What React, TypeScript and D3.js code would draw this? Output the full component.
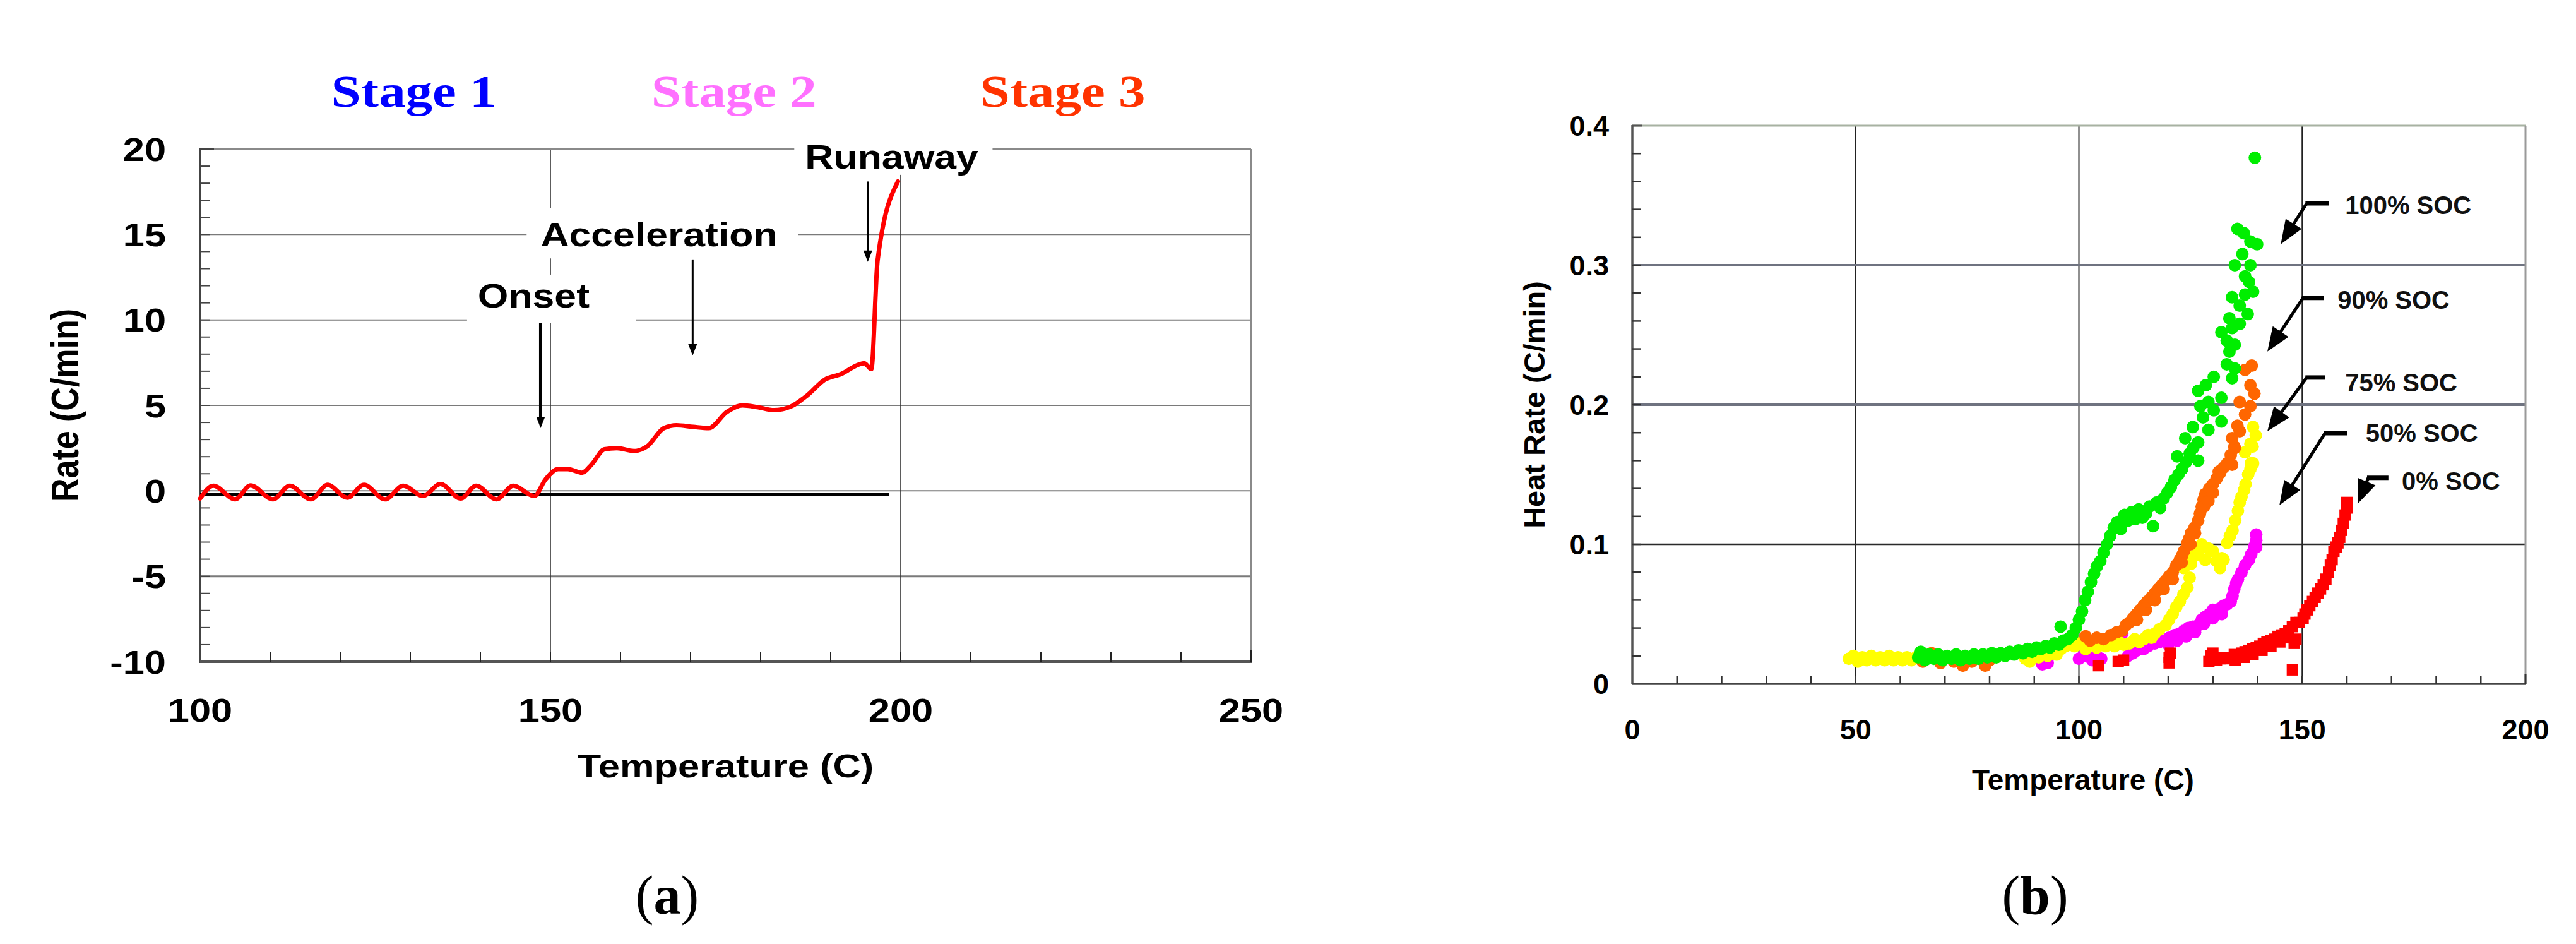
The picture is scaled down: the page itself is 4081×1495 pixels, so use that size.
import React from "react";
import * as d3 from "d3";

const SANS = '"Liberation Sans", Arial, Helvetica, sans-serif';
const SERIF = '"Liberation Serif", "Times New Roman", serif';

// ---------- panel (a): rate vs temperature ----------
const rateTemp = [100, 101.9, 105, 107.2, 110.4, 112.8, 115.8, 118.2, 121, 123.4, 126.4, 129, 131.8, 134.3, 137.2, 139.4, 142.3, 144.7, 147.7, 149.3, 151.1, 152.5, 154.5, 155.9, 157.7, 159.5, 161.9, 163.8, 166.2, 168, 170.4, 172.6, 175.2, 177.4, 179.5, 181.9, 184.3, 186.7, 189.1, 191.5, 193.9, 194.8, 195.8, 196.7, 199.6];
const rateVal = [-0.45, 0.3, -0.5, 0.32, -0.5, 0.3, -0.5, 0.35, -0.4, 0.35, -0.5, 0.3, -0.3, 0.4, -0.45, 0.3, -0.5, 0.3, -0.3, 0.67, 1.27, 1.27, 1.06, 1.55, 2.43, 2.5, 2.33, 2.6, 3.67, 3.84, 3.74, 3.67, 4.62, 5.0, 4.9, 4.72, 4.93, 5.6, 6.49, 6.84, 7.37, 7.47, 7.12, 13.5, 18.1];
const baseTemp = [100, 198.3];
const baseVal = [-0.2, -0.2];
const aXTicks = [100, 150, 200, 250];
const aYTicks = [-10, -5, 0, 5, 10, 15, 20];
const stageLabels = ["Stage 1", "Stage 2", "Stage 3"];
const stageColors = ["#0000ff", "#ff70ff", "#ff3300"];
const stageAt = [130.5, 176.2, 223.1];
const aNotes = [
  { label: "Onset", t: 147.6, v: 10.73, box: [138.1, 162.2, 9.84, 12.65], arrow: [148.6, 9.84, 3.67], w: 5 },
  { label: "Acceleration", t: 165.5, v: 14.31, box: [146.6, 185.4, 13.6, 16.53], arrow: [170.3, 13.54, 7.92], w: 3 },
  { label: "Runaway", t: 198.7, v: 18.85, box: [184.8, 213.1, 18.49, 20.78], arrow: [195.3, 18.1, 13.4], w: 3 },
];

// ---------- panel (b): heat rate scatter by SOC ----------
const soc100 = [
  [64, 0.019], [64.6, 0.023], [65.5, 0.017], [66.5, 0.021], [67.5, 0.018], [68.5, 0.021], [69.5, 0.017], [70.5, 0.02], [71.5, 0.018], [72.5, 0.021],
  [73.5, 0.017], [74.5, 0.02], [75.5, 0.018], [76.5, 0.021], [77.5, 0.018], [78.5, 0.021], [79.5, 0.019], [80.5, 0.022], [81.5, 0.019], [82.5, 0.022],
  [83.5, 0.02], [84.5, 0.023], [85.5, 0.021], [86.5, 0.024], [87.5, 0.022], [88.5, 0.025], [89.5, 0.023], [90.5, 0.026], [91.5, 0.025], [92.5, 0.027],
  [93.5, 0.026], [94.5, 0.029], [95.5, 0.028], [95.9, 0.041], [96.5, 0.031], [97.5, 0.032], [98.5, 0.035], [99.3, 0.04], [100, 0.046], [100.7, 0.052],
  [101.4, 0.06], [102, 0.066], [102.7, 0.073], [103.4, 0.079], [104, 0.084], [104.8, 0.088], [105.5, 0.094], [106.3, 0.1], [107, 0.106], [107.8, 0.112],
  [108.6, 0.116], [109.4, 0.111], [110.2, 0.121], [111, 0.117], [111.8, 0.123], [112.6, 0.118], [113.4, 0.125], [114.2, 0.119], [115, 0.122], [115.8, 0.127],
  [116.6, 0.113], [117.4, 0.13], [118.2, 0.126], [119, 0.133], [119.8, 0.137], [120.6, 0.141], [121.4, 0.146], [122, 0.163], [122.3, 0.15], [123.1, 0.154],
  [123.8, 0.176], [124, 0.159], [124.8, 0.165], [125.5, 0.184], [125.6, 0.169], [126.7, 0.173], [126.7, 0.16], [126.7, 0.21], [127.2, 0.199], [127.8, 0.191],
  [128.4, 0.214], [129, 0.182], [129, 0.202], [130.2, 0.196], [130.2, 0.22], [131.9, 0.205], [131.9, 0.188], [131.9, 0.252], [133.1, 0.229], [133.1, 0.246],
  [133.7, 0.238], [133.7, 0.262], [134.3, 0.219], [134.3, 0.255], [134.3, 0.277], [134.9, 0.226], [134.9, 0.243], [134.9, 0.3], [135.5, 0.326], [136, 0.258],
  [136, 0.271], [136.6, 0.308], [136.9, 0.323], [137.2, 0.279], [137.2, 0.292], [137.8, 0.265], [138.1, 0.288], [138.4, 0.3], [138.4, 0.317], [139, 0.281],
  [139.4, 0.377], [139.9, 0.315],
];
const soc90 = [
  [64.5, 0.021], [65, 0.016], [67, 0.022], [69, 0.015], [72, 0.016], [74, 0.013], [76, 0.016], [79, 0.013], [80, 0.017],
  [101.5, 0.034], [102.5, 0.031], [104, 0.033], [105.5, 0.032], [107.2, 0.035], [108.5, 0.037], [109.7, 0.038], [110.5, 0.042], [111.3, 0.044], [112.1, 0.047],
  [112.9, 0.05], [113, 0.046], [113.7, 0.053], [114.5, 0.056], [115, 0.053], [115.3, 0.059], [116.2, 0.062], [117, 0.065], [117, 0.06], [117.8, 0.068],
  [118.6, 0.071], [119, 0.068], [119.4, 0.074], [120.2, 0.077], [121, 0.08], [121, 0.075], [121.8, 0.085], [122.6, 0.089], [123, 0.087], [123.1, 0.092],
  [123.5, 0.095], [124.3, 0.101], [124.7, 0.104], [125, 0.1], [125.1, 0.108], [125.9, 0.112], [126, 0.108], [126.7, 0.117], [127.1, 0.122], [127.5, 0.127],
  [127.9, 0.132], [128, 0.127], [128.3, 0.136], [129, 0.131], [129.2, 0.14], [130, 0.143], [130, 0.137], [130.8, 0.147], [131.6, 0.151], [131.3, 0.152],
  [132.4, 0.155], [133.2, 0.158], [134, 0.164], [134.3, 0.157], [134.8, 0.17], [134.9, 0.169], [134.3, 0.176], [136, 0.181], [135.5, 0.185], [137.2, 0.193],
  [136, 0.202], [138.4, 0.199], [139.3, 0.208], [138.4, 0.214], [137.2, 0.225], [138.7, 0.228],
];
const soc75 = [
  [48.5, 0.018], [49.5, 0.02], [50.5, 0.016], [51.5, 0.019], [52.5, 0.017], [53.5, 0.02], [54.5, 0.017], [55.5, 0.019], [56.5, 0.017], [57.5, 0.02],
  [58.5, 0.017], [59.5, 0.019], [60.5, 0.017], [61.5, 0.019], [62.5, 0.017], [63.5, 0.019], [88, 0.018], [89, 0.016], [90, 0.02], [91, 0.019],
  [92, 0.022], [93, 0.02], [94, 0.023], [95, 0.021], [96, 0.025], [97, 0.027], [98.3, 0.03], [99, 0.027], [100, 0.029], [100.7, 0.028],
  [101.5, 0.025], [102.5, 0.028], [104, 0.026], [105, 0.029], [106, 0.027], [107, 0.03], [108, 0.027], [109, 0.03], [110, 0.028], [111.3, 0.029],
  [112.5, 0.032], [113.5, 0.03], [114.5, 0.032], [115.5, 0.035], [116.2, 0.033], [117, 0.036], [118, 0.039], [119.4, 0.042], [120.2, 0.046], [121, 0.05],
  [121.8, 0.055], [122.6, 0.059], [123.4, 0.064], [124.3, 0.069], [124.8, 0.076], [123.5, 0.083], [124.5, 0.088], [125.1, 0.086], [126, 0.092], [126.7, 0.095],
  [127.5, 0.1], [128.3, 0.089], [129, 0.097], [130, 0.095], [130.8, 0.088], [131.6, 0.083], [132, 0.09], [132.4, 0.089], [133.2, 0.101], [133.8, 0.106],
  [134.4, 0.11], [135, 0.117], [135.6, 0.124], [136, 0.13], [136.4, 0.134], [137, 0.139], [137.3, 0.143], [137.9, 0.15], [138.4, 0.154], [138.5, 0.158],
  [139, 0.158], [138.9, 0.17], [138.4, 0.172], [137.2, 0.166], [139.6, 0.178], [139, 0.184],
];
const soc50 = [
  [91.8, 0.014], [92.5, 0.016], [93, 0.015], [100, 0.018], [101, 0.02], [102.4, 0.019], [103, 0.017], [104, 0.02], [105, 0.018], [109.7, 0.036],
  [111, 0.02], [112.1, 0.022], [113, 0.024], [114.5, 0.025], [115.5, 0.027], [117, 0.029], [118, 0.03], [119, 0.031], [120, 0.028], [120.2, 0.033],
  [121.5, 0.035], [122, 0.031], [122.5, 0.036], [123.5, 0.038], [124, 0.034], [124.5, 0.04], [125.5, 0.041], [126, 0.037], [126.7, 0.042], [127.5, 0.046],
  [128, 0.043], [128.3, 0.048], [129.2, 0.05], [130, 0.053], [130, 0.047], [130.8, 0.053], [131.6, 0.054], [132, 0.05], [132.4, 0.056], [133.2, 0.057],
  [134, 0.059], [134.4, 0.063], [134.8, 0.068], [135.2, 0.072], [135.6, 0.075], [136.4, 0.08], [137.2, 0.085], [138.1, 0.089], [138.6, 0.093], [139.2, 0.098],
  [139.7, 0.098], [139.7, 0.103], [139.7, 0.107],
];
const soc0 = [
  [104.4, 0.013], [108.8, 0.016], [110, 0.017], [120.2, 0.015], [120.2, 0.019], [120.5, 0.022], [129.1, 0.016], [129.5, 0.02], [130, 0.022], [130.8, 0.017],
  [131.6, 0.018], [132.4, 0.019], [133.2, 0.018], [134, 0.019], [134.8, 0.021], [135, 0.017], [135.6, 0.02], [136.4, 0.022], [137, 0.019], [137.2, 0.023],
  [138, 0.024], [138.9, 0.025], [139, 0.021], [139.7, 0.026], [140.5, 0.027], [141, 0.024], [141.3, 0.029], [142.1, 0.03], [143, 0.031], [143, 0.027],
  [143.8, 0.032], [144.6, 0.034], [145, 0.03], [145.4, 0.035], [146.2, 0.036], [147, 0.038], [147, 0.033], [147.8, 0.041], [147.8, 0.01], [148.2, 0.029],
  [148.6, 0.032], [148.6, 0.044], [149.4, 0.044], [150.2, 0.047], [150.6, 0.05], [151.1, 0.053], [151.7, 0.056], [152.3, 0.059], [152.9, 0.062], [153.5, 0.065],
  [154.1, 0.068], [154.7, 0.071], [155.3, 0.075], [155.9, 0.08], [156.3, 0.085], [156.7, 0.089], [157.1, 0.095], [157.6, 0.098], [158, 0.101], [158.4, 0.105],
  [158.8, 0.11], [159.2, 0.115], [159.6, 0.121], [160, 0.126], [160, 0.13],
];
const bXTicks = [0, 50, 100, 150, 200];
const bYTicks = [0, 0.1, 0.2, 0.3, 0.4];
const bNotes = [
  { label: "100% SOC", t: 159.6, v: 0.343, dash: [151.0, 155.9, 0.3443], tip: [145.2, 0.3151] },
  { label: "90% SOC", t: 157.9, v: 0.275, dash: [150.2, 154.9, 0.2766], tip: [142.2, 0.2381] },
  { label: "75% SOC", t: 159.6, v: 0.2158, dash: [151.0, 155.1, 0.2195], tip: [142.2, 0.181] },
  { label: "50% SOC", t: 164.2, v: 0.1796, dash: [155.1, 160.1, 0.1796], tip: [144.9, 0.128] },
  { label: "0% SOC", t: 172.3, v: 0.1452, dash: [164.8, 169.3, 0.1476], tip: [162.4, 0.129] },
];

const W = 4081;
const H = 1495;
const SX = 1.18; // panel (a) is horizontally stretched in the figure

function Arrow({ x1, y1, x2, y2, sw, hl, hw }) {
  const dx = x2 - x1;
  const dy = y2 - y1;
  const L = Math.hypot(dx, dy);
  const ux = dx / L;
  const uy = dy / L;
  const bx = x2 - ux * hl;
  const by = y2 - uy * hl;
  const px = -uy;
  const py = ux;
  return (
    <g>
      <line x1={x1} y1={y1} x2={bx + ux * 2} y2={by + uy * 2} stroke="#000" strokeWidth={sw} />
      <polygon
        points={`${x2},${y2} ${bx + (px * hw) / 2},${by + (py * hw) / 2} ${bx - (px * hw) / 2},${by - (py * hw) / 2}`}
        fill="#000"
      />
    </g>
  );
}

function PanelA() {
  const x = d3.scaleLinear().domain([100, 250]).range([317, 1982]);
  const y = d3.scaleLinear().domain([-10, 20]).range([1048, 236]);
  const line = d3
    .line()
    .x((d) => x(d[0]))
    .y((d) => y(d[1]))
    .curve(d3.curveMonotoneX);
  const rateData = rateTemp.map((t, i) => [t, rateVal[i]]);
  const baseData = baseTemp.map((t, i) => [t, baseVal[i]]);
  const minorY = d3.range(-9, 20, 1);
  const minorX = d3.range(110, 250, 10);

  return (
    <g>
      {/* grid */}
      {[-5, 0, 5, 10, 15].map((v) => (
        <line key={"h" + v} x1={x(100)} x2={x(250)} y1={y(v)} y2={y(v)} stroke="#7a7a7a" strokeWidth={v === -5 ? 3 : 2} />
      ))}
      {[150, 200].map((t) => (
        <line key={"v" + t} x1={x(t)} x2={x(t)} y1={y(20)} y2={y(-10)} stroke="#333" strokeWidth={1.6} />
      ))}
      <line x1={x(100)} x2={x(250)} y1={y(20)} y2={y(20)} stroke="#8a8a8a" strokeWidth={4} />
      <line x1={x(250)} x2={x(250)} y1={y(20)} y2={y(-10)} stroke="#8a8a8a" strokeWidth={3} />

      {/* annotation boxes hide grid */}
      {aNotes.map((n) => (
        <rect key={"b" + n.label} x={x(n.box[0])} y={y(n.box[3])} width={x(n.box[1]) - x(n.box[0])} height={y(n.box[2]) - y(n.box[3])} fill="#fff" />
      ))}

      {/* axes */}
      <line x1={x(100)} x2={x(100)} y1={y(20) - 2} y2={y(-10) + 2} stroke="#444" strokeWidth={4} />
      <line x1={x(100)} x2={x(250) + 1} y1={y(-10)} y2={y(-10)} stroke="#555" strokeWidth={4} />
      {minorY.map((v) => (
        <line key={"my" + v} x1={x(100)} x2={x(100) + 16} y1={y(v)} y2={y(v)} stroke="#444" strokeWidth={2} />
      ))}
      <line x1={x(100)} x2={x(100) + 22} y1={y(20)} y2={y(20)} stroke="#444" strokeWidth={3} />
      {minorX.map((t) => (
        <line key={"mx" + t} x1={x(t)} x2={x(t)} y1={y(-10)} y2={y(-10) - 15} stroke="#222" strokeWidth={2} />
      ))}
      <line x1={x(250)} x2={x(250)} y1={y(-10)} y2={y(-10) - 18} stroke="#222" strokeWidth={3} />

      {/* tick labels */}
      {aYTicks.map((v) => (
        <text key={"yl" + v} transform={`translate(263,${y(v) + 18.5}) scale(${SX},1)`} textAnchor="end" fontFamily={SANS} fontWeight="bold" fontSize={52}>
          {v}
        </text>
      ))}
      {aXTicks.map((t) => (
        <text key={"xl" + t} transform={`translate(${x(t)},1143) scale(${SX},1)`} textAnchor="middle" fontFamily={SANS} fontWeight="bold" fontSize={52}>
          {t}
        </text>
      ))}
      <text transform={`translate(${(x(100) + x(250)) / 2},1231) scale(${SX},1)`} textAnchor="middle" fontFamily={SANS} fontWeight="bold" fontSize={52}>
        Temperature (C)
      </text>
      <text transform={`translate(124,${(y(20) + y(-10)) / 2}) scale(${SX},1) rotate(-90)`} textAnchor="middle" fontFamily={SANS} fontWeight="bold" fontSize={52}>
        Rate (C/min)
      </text>

      {/* stage titles */}
      {stageLabels.map((s, i) => (
        <text key={s} transform={`translate(${x(stageAt[i])},169) scale(${SX},1)`} textAnchor="middle" fontFamily={SERIF} fontWeight="bold" fontSize={72} fill={stageColors[i]}>
          {s}
        </text>
      ))}

      {/* data */}
      <path d={d3.line().x((d) => x(d[0])).y((d) => y(d[1]))(baseData)} stroke="#000" strokeWidth={5} fill="none" />
      <path d={line(rateData)} stroke="#ff0000" strokeWidth={7} fill="none" strokeLinejoin="round" strokeLinecap="round" />

      {/* annotations */}
      {aNotes.map((n) => (
        <g key={"n" + n.label}>
          <text transform={`translate(${x(n.t)},${y(n.v)}) scale(${SX},1)`} textAnchor="middle" fontFamily={SANS} fontWeight="bold" fontSize={53}>
            {n.label}
          </text>
          <Arrow x1={x(n.arrow[0])} y1={y(n.arrow[1])} x2={x(n.arrow[0])} y2={y(n.arrow[2])} sw={n.w} hl={18} hw={14} />
        </g>
      ))}
    </g>
  );
}

function PanelB() {
  const x = d3.scaleLinear().domain([0, 200]).range([2586, 4001]);
  const y = d3.scaleLinear().domain([0, 0.4]).range([1083, 199]);
  const minorY = d3.range(0.02, 0.4, 0.02);
  const minorX = d3.range(10, 200, 10);
  const dots = [
    { data: soc50, color: "#ff00ff" },
    { data: soc75, color: "#ffff00" },
    { data: soc90, color: "#ff6600" },
    { data: soc100, color: "#00ee00" },
  ];

  return (
    <g>
      {/* grid */}
      {[50, 100, 150].map((t) => (
        <line key={"v" + t} x1={x(t)} x2={x(t)} y1={y(0.4)} y2={y(0)} stroke="#222" strokeWidth={2} />
      ))}
      <line x1={x(0)} x2={x(200)} y1={y(0.1)} y2={y(0.1)} stroke="#2a2a2a" strokeWidth={2.5} />
      {[0.2, 0.3].map((v) => (
        <line key={"h" + v} x1={x(0)} x2={x(200)} y1={y(v)} y2={y(v)} stroke="#6f7380" strokeWidth={4} />
      ))}
      <line x1={x(0)} x2={x(200)} y1={y(0.4)} y2={y(0.4)} stroke="#a7b2a2" strokeWidth={3} />
      <line x1={x(200)} x2={x(200)} y1={y(0.4)} y2={y(0)} stroke="#999" strokeWidth={3} />

      {/* axes */}
      <line x1={x(0)} x2={x(0)} y1={y(0.4) - 1} y2={y(0) + 1} stroke="#555" strokeWidth={3.5} />
      <line x1={x(0)} x2={x(200) + 1} y1={y(0)} y2={y(0)} stroke="#444" strokeWidth={3.5} />
      {minorY.map((v) => (
        <line key={"my" + v} x1={x(0)} x2={x(0) + 13} y1={y(v)} y2={y(v)} stroke="#333" strokeWidth={2.5} />
      ))}
      <line x1={x(0)} x2={x(0) + 16} y1={y(0.4)} y2={y(0.4)} stroke="#555" strokeWidth={3} />
      {minorX.map((t) => (
        <line key={"mx" + t} x1={x(t)} x2={x(t)} y1={y(0)} y2={y(0) - 13} stroke="#333" strokeWidth={2.5} />
      ))}
      <line x1={x(200)} x2={x(200)} y1={y(0)} y2={y(0) - 16} stroke="#333" strokeWidth={3} />

      {/* tick labels */}
      {bYTicks.map((v) => (
        <text key={"yl" + v} x={2549} y={y(v) + 16} textAnchor="end" fontFamily={SANS} fontWeight="bold" fontSize={45}>
          {v}
        </text>
      ))}
      {bXTicks.map((t) => (
        <text key={"xl" + t} x={x(t)} y={1171} textAnchor="middle" fontFamily={SANS} fontWeight="bold" fontSize={45}>
          {t}
        </text>
      ))}
      <text x={3300} y={1251} textAnchor="middle" fontFamily={SANS} fontWeight="bold" fontSize={46}>
        Temperature (C)
      </text>
      <text transform={`translate(2447,${(y(0) + y(0.4)) / 2}) rotate(-90)`} textAnchor="middle" fontFamily={SANS} fontWeight="bold" fontSize={47}>
        Heat Rate (C/min)
      </text>

      {/* scatter */}
      {dots.map((s) => (
        <g key={s.color} fill={s.color}>
          {s.data.map((d, i) => (
            <circle key={i} cx={x(d[0])} cy={y(d[1])} r={10} />
          ))}
        </g>
      ))}
      <g fill="#ff0000">
        {soc0.map((d, i) => (
          <rect key={i} x={x(d[0]) - 9} y={y(d[1]) - 9} width={18} height={18} />
        ))}
      </g>

      {/* SOC labels */}
      {bNotes.map((n) => (
        <g key={n.label}>
          <line x1={x(n.dash[0]) - 2} x2={x(n.dash[1])} y1={y(n.dash[2])} y2={y(n.dash[2])} stroke="#000" strokeWidth={7} />
          <Arrow x1={x(n.dash[0])} y1={y(n.dash[2])} x2={x(n.tip[0])} y2={y(n.tip[1])} sw={5} hl={38} hw={30} />
          <text x={x(n.t)} y={y(n.v) + 14} fontFamily={SANS} fontWeight="bold" fontSize={40} fill="#111">
            {n.label}
          </text>
        </g>
      ))}
    </g>
  );
}

export default function App() {
  return (
    <svg width={W} height={H} style={{ position: "absolute", left: 0, top: 0, background: "#fff" }}>
      <rect width={W} height={H} fill="#fff" />
      <PanelA />
      <PanelB />
      <text x={1057} y={1447} textAnchor="middle" fontFamily={SERIF} fontSize={86}>
        (<tspan fontWeight="bold">a</tspan>)
      </text>
      <text x={3224} y={1447} textAnchor="middle" fontFamily={SERIF} fontSize={86}>
        (<tspan fontWeight="bold">b</tspan>)
      </text>
    </svg>
  );
}
